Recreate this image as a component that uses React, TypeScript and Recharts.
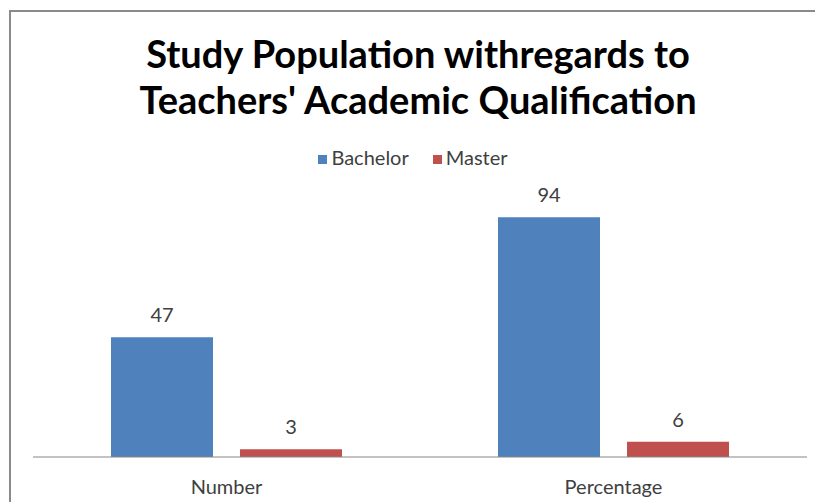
import React from "react";
import { BarChart, Bar, XAxis, YAxis, Legend, LabelList } from "recharts";

const categories = ["Number", "Percentage"];
const bachelor = [47, 94];
const master = [3, 6];
const seriesNames = ["Bachelor", "Master"];
const titleLines = ["Study Population withregards to", "Teachers' Academic Qualification"];

const data = categories.map((c, i) => ({ name: c, Bachelor: bachelor[i], Master: master[i] }));

const FONT = "Lato, 'Open Sans', sans-serif";

const Tick = (props: any) => {
  const { x, y, payload } = props;
  return (
    <text x={x} y={y + 29} textAnchor="middle" fill="#404040" fontSize={20} fontFamily={FONT}>
      {payload.value}
    </text>
  );
};

export default function App() {
  return (
    <div style={{ position: "absolute", left: 0, top: 0, width: 815, height: 502, background: "#fff", overflow: "hidden" }}>
      <div
        style={{
          position: "absolute",
          left: 9,
          top: 10,
          width: 830,
          height: 520,
          border: "2px solid #8a8a8a",
          boxSizing: "border-box",
        }}
      />
      <div
        style={{
          position: "absolute",
          left: 0,
          top: 30,
          width: 836,
          textAlign: "center",
          fontFamily: FONT,
          fontWeight: 700,
          fontSize: 38,
          lineHeight: "46px",
          color: "#000",
        }}
      >
        <div>{titleLines[0]}</div>
        <div>{titleLines[1]}</div>
      </div>
      <BarChart
        width={815}
        height={502}
        data={data}
        margin={{ top: 178, right: 8, bottom: 15, left: 33 }}
        barCategoryGap="20%"
        barGap={27}
      >
        <XAxis
          dataKey="name"
          axisLine={{ stroke: "#868686" }}
          tickLine={false}
          height={30}
          tick={<Tick />}
          interval={0}
        />
        <YAxis hide domain={[0, 100]} />
        <Legend
          verticalAlign="top"
          align="center"
          iconType="square"
          iconSize={9}
          wrapperStyle={{ top: 145, left: 0, width: 836, fontFamily: FONT, fontSize: 20 }}
          formatter={(v: string, _e: any, i: number) => (
            <span style={{ color: "#404040", marginRight: i === 0 ? 14 : 0 }}>{v}</span>
          )}
        />
        <Bar dataKey={seriesNames[0]} fill="#4F81BD" barSize={102} isAnimationActive={false}>
          <LabelList dataKey={seriesNames[0]} position="top" offset={15} fill="#404040" fontSize={20} fontFamily={FONT} />
        </Bar>
        <Bar dataKey={seriesNames[1]} fill="#C0504D" barSize={102} isAnimationActive={false}>
          <LabelList dataKey={seriesNames[1]} position="top" offset={15} fill="#404040" fontSize={20} fontFamily={FONT} />
        </Bar>
      </BarChart>
    </div>
  );
}
